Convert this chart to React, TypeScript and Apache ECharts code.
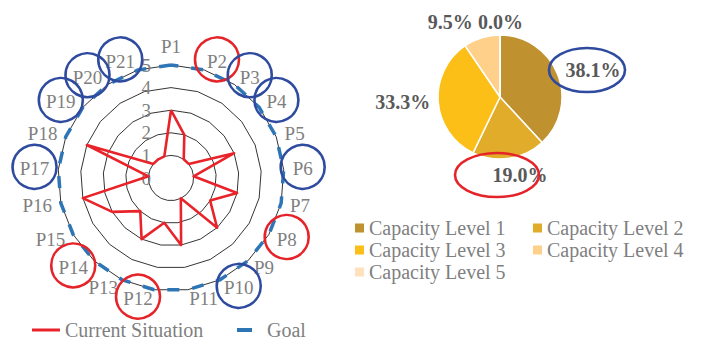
import React, { useEffect, useRef } from "react";
import * as echarts from "echarts";

// ---- data ----
const indicatorNames = [
  "P1", "P2", "P3", "P4", "P5", "P6", "P7", "P8", "P9", "P10", "P11",
  "P12", "P13", "P14", "P15", "P16", "P17", "P18", "P19", "P20", "P21",
];
const currentSituation = [3, 2, 1, 1, 3, 1, 3, 2, 3, 1, 3, 2, 3, 2, 3, 4, 1, 4, 1, 1, 1];
const goal = [5, 5, 5, 5, 5, 5, 5, 5, 5, 5, 5, 5, 5, 5, 5, 5, 5, 5, 5, 5, 5];
const levelMin = 0;
const levelMax = 5;

const capacityLevels = [
  "Capacity Level 1",
  "Capacity Level 2",
  "Capacity Level 3",
  "Capacity Level 4",
  "Capacity Level 5",
];
const capacityShare = [38.1, 19.0, 33.3, 9.5, 0.0];

// ---- styling / layout ----
const SERIF = "Liberation Serif";
const GREY = "#7f7f7f";
const RED = "#E8232A";
const BLUE_DASH = "#2E75B6";
const RING_RED = "#E5242A";
const RING_BLUE = "#2F4B9F";
const pieColors = ["#BF912F", "#E0AC2A", "#FBBF17", "#FFD08A", "#FFE1BD"];

const RADAR_CX = 171;
const RADAR_CY = 178;
const RADAR_R = 113;
const NAME_GAP = 9;
const NAME_FONT = 19;

const PIE_CX = 500;
const PIE_CY = 97;
const PIE_R = 62;
// small shifts of the percentage labels away from their default outside spot
const pieLabelNudge = [
  [0, -3],
  [-22, 14],
  [0, 0],
  [-3, -13],
  [28, -10],
];

// ring colour used for indicators sitting at a given capacity level
const levelRingColor: Record<number, string> = { 1: RING_BLUE, 2: RING_RED };

function textWidth(text: string, font: string) {
  const ctx = document.createElement("canvas").getContext("2d");
  if (!ctx) return text.length * 10;
  ctx.font = font;
  return ctx.measureText(text).width;
}

export default function App() {
  const ref = useRef<HTMLDivElement>(null);

  useEffect(() => {
    if (!ref.current) return;
    const chart = echarts.init(ref.current, undefined, { renderer: "svg" });

    // ECharts lays radar indicators out counter-clockwise; keep P1 on top and run the rest clockwise
    const order = [0, ...indicatorNames.map((_, i) => i).slice(1).reverse()];

    // rings drawn around the indicator names at capacity level 1 and 2
    const nameFont = `${NAME_FONT}px ${SERIF}`;
    const rings: any[] = [];
    indicatorNames.forEach((name, i) => {
      const color = levelRingColor[currentSituation[i]];
      if (!color) return;
      const theta = (i * 2 * Math.PI) / indicatorNames.length;
      const ax = RADAR_CX + (RADAR_R + NAME_GAP) * Math.sin(theta);
      const ay = RADAR_CY - (RADAR_R + NAME_GAP) * Math.cos(theta);
      const w = textWidth(name, nameFont);
      let cx = ax;
      let cy = ay;
      if (i === 0) cy = ay - NAME_FONT / 2;
      else cx = Math.sin(theta) > 0 ? ax + w / 2 : ax - w / 2;
      rings.push({
        type: "circle",
        z: 100,
        silent: true,
        shape: { cx, cy: cy - 2, r: 22 },
        style: { fill: "none", stroke: color, lineWidth: 2.6 },
      });
    });

    const option: any = {
      animation: false,
      textStyle: { fontFamily: SERIF },
      radar: {
        center: [RADAR_CX, RADAR_CY],
        radius: RADAR_R,
        startAngle: 90,
        shape: "polygon",
        splitNumber: levelMax - levelMin,
        nameGap: NAME_GAP,
        axisName: { color: GREY, fontSize: NAME_FONT, fontFamily: SERIF },
        indicator: order.map((i) => ({
          name: indicatorNames[i],
          min: levelMin,
          max: levelMax,
          ...(i === 0 ? { axisLabel: { show: true } } : {}),
        })),
        axisLine: { show: false },
        axisTick: { show: false },
        axisLabel: { show: false, color: GREY, fontSize: 19, fontFamily: SERIF, margin: 20 },
        splitLine: { lineStyle: { color: "#000", width: 0.8 } },
        splitArea: { show: false },
      },
      legend: [
        {
          left: 32,
          top: 320,
          padding: 0,
          data: [{ name: "Current Situation", icon: "rect" }],
          itemWidth: 28,
          itemHeight: 3,
          itemStyle: { borderWidth: 0 },
          textStyle: { color: GREY, fontSize: 20, fontFamily: SERIF },
          selectedMode: false,
        },
        {
          left: 237,
          top: 320,
          padding: 0,
          data: [{ name: "Goal", icon: "rect" }],
          itemWidth: 15,
          itemHeight: 4,
          itemStyle: { borderWidth: 0 },
          textStyle: { color: GREY, fontSize: 20, fontFamily: SERIF, padding: [0, 0, 0, 10] },
          selectedMode: false,
        },
        {
          left: 355,
          top: 218,
          width: 360,
          padding: 0,
          data: capacityLevels,
          icon: "rect",
          itemWidth: 9,
          itemHeight: 9,
          itemGap: 2,
          itemStyle: { borderWidth: 0 },
          textStyle: { color: GREY, fontSize: 20, lineHeight: 20, width: 162, fontFamily: SERIF },
          selectedMode: false,
        },
      ],
      series: [
        {
          type: "radar",
          symbol: "none",
          silent: true,
          data: [
            {
              name: "Goal",
              value: order.map((i) => goal[i]),
              lineStyle: { color: BLUE_DASH, width: 3.5, type: [12, 13] },
              itemStyle: { color: BLUE_DASH },
            },
            {
              name: "Current Situation",
              value: order.map((i) => currentSituation[i]),
              lineStyle: { color: RED, width: 2.6 },
              itemStyle: { color: RED },
            },
          ],
        },
        {
          type: "pie",
          center: [PIE_CX, PIE_CY],
          radius: PIE_R,
          startAngle: 90,
          clockwise: true,
          avoidLabelOverlap: false,
          silent: true,
          itemStyle: { borderColor: "#fff", borderWidth: 1.5 },
          data: capacityLevels.map((name, i) => ({
            name,
            value: capacityShare[i],
            itemStyle: { color: pieColors[i] },
          })),
          label: {
            show: true,
            position: "outside",
            formatter: (p: any) => `${Number(p.value).toFixed(1)}%`,
            color: "#595959",
            fontSize: 20,
            fontWeight: "bold",
            fontFamily: SERIF,
          },
          labelLine: { show: false, length: 3, length2: 0 },
          labelLayout: (p: any) => ({
            dx: pieLabelNudge[p.dataIndex][0],
            dy: pieLabelNudge[p.dataIndex][1],
          }),
        },
      ],
      graphic: [
        ...rings,
        {
          type: "ellipse",
          z: 100,
          silent: true,
          shape: { cx: PIE_CX + 87, cy: PIE_CY - 27, rx: 38, ry: 22 },
          style: { fill: "none", stroke: RING_BLUE, lineWidth: 2.6 },
        },
        {
          type: "ellipse",
          z: 100,
          silent: true,
          shape: { cx: PIE_CX - 3, cy: PIE_CY + 78, rx: 42, ry: 22 },
          style: { fill: "none", stroke: RING_RED, lineWidth: 2.6 },
        },
      ],
    };

    chart.setOption(option);
    return () => chart.dispose();
  }, []);

  return (
    <div
      ref={ref}
      style={{ position: "fixed", left: 0, top: 0, width: 703, height: 342, background: "#fff" }}
    />
  );
}
